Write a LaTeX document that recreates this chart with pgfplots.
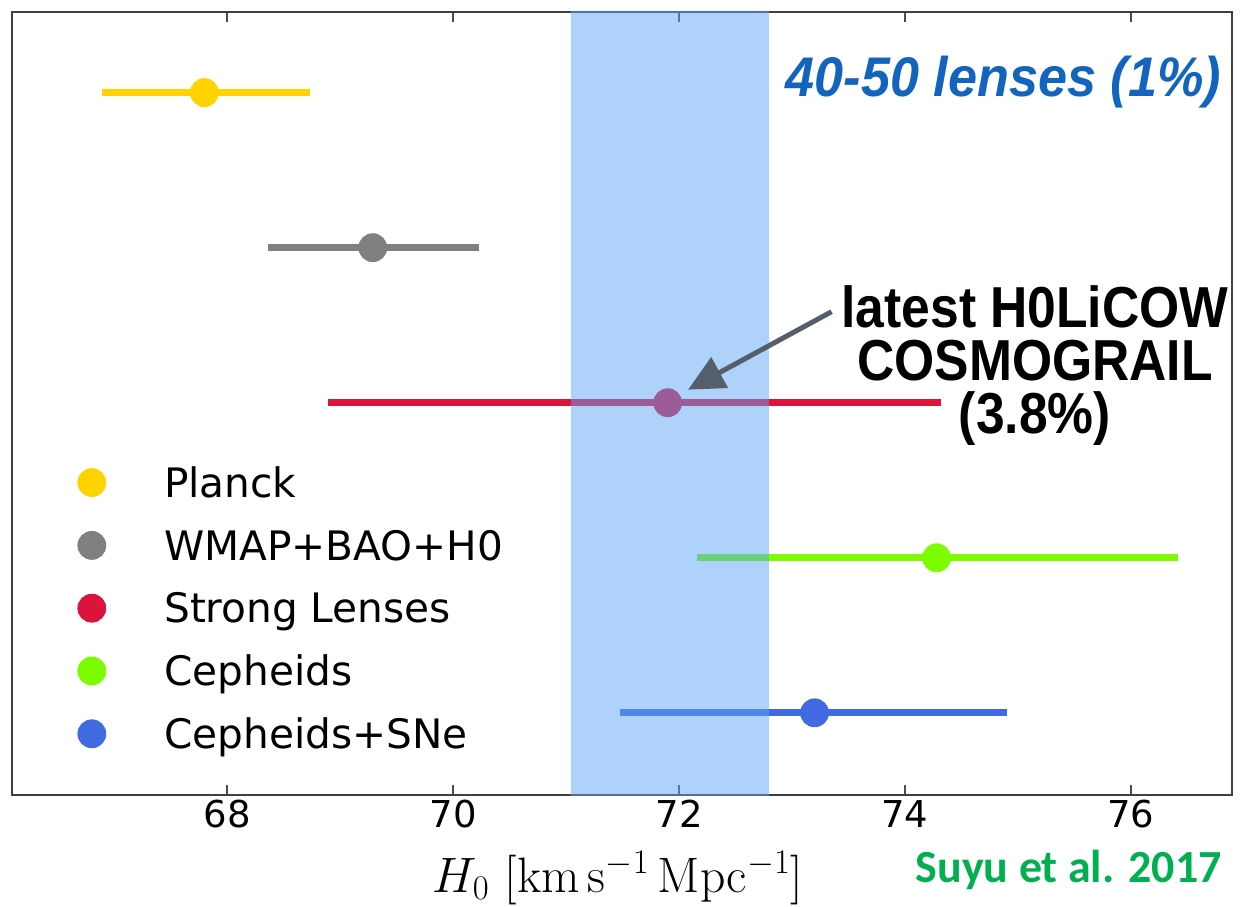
\documentclass[border=0pt]{standalone}
\usepackage{pgfplots}
\pgfplotsset{compat=1.18}
\usepackage[no-math]{fontspec}
\usepackage{graphicx}
\usetikzlibrary{arrows.meta}
\setmainfont{DejaVu Sans}
\newfontfamily\helv{Liberation Sans}
\newfontfamily\calib{Carlito}

\definecolor{planck}{RGB}{255,210,0}
\definecolor{wmap}{RGB}{128,128,128}
\definecolor{lens}{RGB}{220,20,60}
\definecolor{ceph}{RGB}{124,252,0}
\definecolor{cephsn}{RGB}{65,105,225}
\definecolor{band}{RGB}{93,165,245}
\definecolor{bluetxt}{RGB}{18,100,190}
\definecolor{suyu}{RGB}{0,176,80}
\definecolor{arrowc}{RGB}{85,95,108}

\pgfplotsset{
  hbar/.style={color=#1, only marks, mark=*, mark size=7pt,
    error bars/.cd, x dir=both, x explicit, error mark=none,
    error bar style={line width=3.5pt}},
}

\begin{document}
\begin{tikzpicture}
\path[use as bounding box] (-6pt,-55.5pt) rectangle (617pt,397.5pt);
\begin{axis}[
  at={(0pt,0pt)}, anchor=south west,
  scale only axis, width=610pt, height=391.5pt,
  xmin=66.097, xmax=76.894, ymin=0.47, ymax=5.52,
  xtick={68,70,72,74,76}, ytick=\empty,
  tick align=inside,
  major tick length=5pt,
  tick style={line width=0.8pt, color=black!70},
  axis line style={line width=1.2pt, color=black!75},
  clip marker paths=true,
  /pgf/number format/assume math mode=true,
  xticklabel style={font=\fontsize{18.5}{20}\selectfont, inner sep=0pt, yshift=-2.5pt},
  xlabel={$H_0\ [\mathrm{km\,s^{-1}\,Mpc^{-1}}]$},
  every axis x label/.style={at={(rel axis cs:0.4967,0)}, anchor=base, yshift=-48.5pt,
    font=\fontsize{23.5}{26}\selectfont},
  legend cell align=left,
  legend image code/.code={\fill (7pt,2.4pt) circle (7pt);},
  legend style={draw=none, fill=none, inner sep=0pt,
    at={(rel axis cs:0.0533,0.4179)}, anchor=north west,
    font=\fontsize{20.3}{23}\selectfont, row sep=12.8pt,
    nodes={inner sep=0pt, text height=14pt, text depth=4pt},
    /tikz/every odd column/.append style={column sep=29pt}},
]

% H0 measurements with asymmetric error bars
\addplot[hbar=planck] table[x=x, y=y, x error plus=ep, x error minus=em] {
x     y ep   em
67.80 5 0.93 0.91
};
\addlegendentry{Planck}

\addplot[hbar=wmap] table[x=x, y=y, x error plus=ep, x error minus=em] {
x     y ep   em
69.29 4 0.94 0.93
};
\addlegendentry{WMAP+BAO+H0}

\addplot[hbar=lens] table[x=x, y=y, x error plus=ep, x error minus=em] {
x     y ep   em
71.90 3 2.42 3.01
};
\addlegendentry{Strong Lenses}

\addplot[hbar=ceph] table[x=x, y=y, x error plus=ep, x error minus=em] {
x     y ep   em
74.28 2 2.14 2.12
};
\addlegendentry{Cepheids}

\addplot[hbar=cephsn] table[x=x, y=y, x error plus=ep, x error minus=em] {
x     y ep   em
73.20 1 1.70 1.72
};
\addlegendentry{Cepheids+SNe}

% forecast band for 40-50 lenses
\addplot[forget plot, draw=none, fill=band, fill opacity=0.5]
  coordinates {(71.04,0) (72.80,0) (72.80,6) (71.04,6)} -- cycle;

\node[anchor=base east, text=bluetxt,
  font=\helv\bfseries\itshape\fontsize{26.1}{30}\selectfont]
  at (axis cs:76.86,4.974) {\scalebox{1}[1.07]{40-50 lenses (1\%)}};

\draw[arrowc, line width=2.5pt, -{Triangle[length=18pt,width=17pt]}]
  (axis cs:73.35,3.587) -- (axis cs:72.08,3.084);

\begin{scope}[every node/.style={anchor=base, font=\helv\bfseries\fontsize{25.8}{28}\selectfont}]
\node at (axis cs:75.15,3.484) {\scalebox{1}[1.12]{latest H0LiCOW}};
\node at (axis cs:75.15,3.142) {\scalebox{1}[1.12]{COSMOGRAIL}};
\node at (axis cs:75.15,2.800) {\scalebox{1}[1.12]{(3.8\%)}};
\end{scope}
\end{axis}

% reference credit below the axis
\node[anchor=base east, text=suyu, inner sep=0pt,
  font=\calib\bfseries\fontsize{23}{26}\selectfont]
  at ([shift={(-5pt,-43.5pt)}]current axis.south east) {Suyu et al. 2017};
\end{tikzpicture}
\end{document}
